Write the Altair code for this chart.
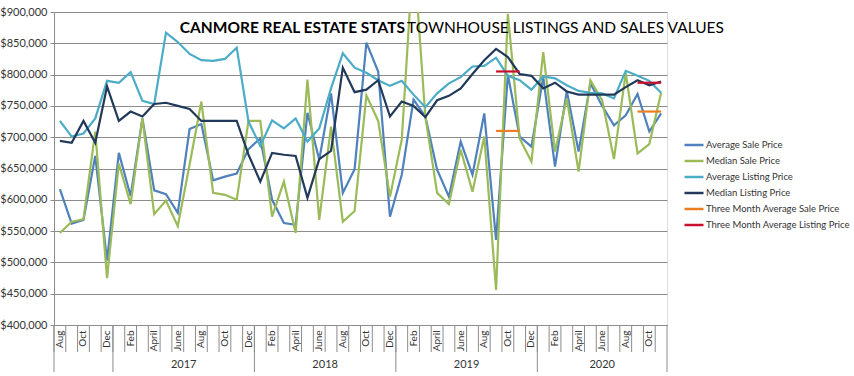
import altair as alt
import pandas as pd

# ---------------- data ----------------
years = [2016] * 5 + [2017] * 12 + [2018] * 12 + [2019] * 12 + [2020] * 11
month_nums = list(range(8, 13)) + list(range(1, 13)) * 3 + list(range(1, 12))
months = [f"{y}-{m:02d}" for y, m in zip(years, month_nums)]

avg_sale = [617, 562, 568, 670, 503, 675, 606, 730, 615, 609, 579, 713, 721, 631, 637, 642,
            681, 698, 600, 563, 560, 739, 664, 770, 611, 649, 851, 805, 573, 640, 760, 733,
            648, 605, 693, 640, 738, 536, 800, 701, 685, 796, 653, 774, 677, 786, 750, 719,
            735, 769, 709, 738]
med_sale = [547, 565, 569, 709, 475, 658, 593, 730, 577, 599, 558, 656, 757, 611, 608, 600,
            726, 726, 573, 629, 547, 792, 568, 717, 565, 582, 767, 726, 605, 696, 1000, 733,
            611, 593, 680, 613, 701, 456, 897, 698, 661, 836, 677, 762, 645, 791, 759, 665,
            803, 674, 689, 771]
avg_list = [726, 701, 706, 730, 790, 787, 804, 758, 753, 867, 852, 833, 823, 822, 825, 843,
            725, 686, 727, 714, 730, 693, 714, 778, 834, 811, 803, 791, 782, 790, 768, 748,
            770, 786, 796, 813, 814, 827, 798, 791, 776, 797, 794, 783, 774, 771, 770, 762,
            806, 798, 790, 771]
med_list = [694, 691, 726, 691, 781, 726, 741, 733, 753, 755, 750, 745, 726, 726, 726, 726,
            672, 629, 675, 672, 670, 603, 665, 678, 811, 772, 776, 791, 733, 757, 750, 732,
            759, 766, 778, 801, 823, 841, 828, 801, 798, 778, 787, 773, 768, 768, 768, 768,
            780, 791, 783, 789]

three_month_months = ["2019-09", "2019-10", "2019-11", "2020-09", "2020-10", "2020-11"]
three_month_segment = [1, 1, 1, 2, 2, 2]
three_month_sale = [710, 710, 710, 741, 741, 741]
three_month_list = [805, 805, 805, 787, 787, 787]

series_names = ["Average Sale Price", "Median Sale Price", "Average Listing Price",
                "Median Listing Price", "Three Month Average Sale Price",
                "Three Month Average Listing Price"]
series_colors = ["#4F81BD", "#9BBB59", "#4BACC6", "#22395A", "#EB7D22", "#C8102E"]

year_labels = ["2017", "2018", "2019", "2020"]
year_mid_months = ["2017-06", "2018-06", "2019-06", "2020-06"]
year_start_months = ["2016-08", "2017-01", "2018-01", "2019-01", "2020-01"]

# ---------------- tables ----------------
rows = []
for name, vals in zip(series_names[:4], [avg_sale, med_sale, avg_list, med_list]):
    for m, v in zip(months, vals):
        rows.append({"series": name, "month": m, "value": v * 1000, "seg": 0})
for name, vals in zip(series_names[4:], [three_month_sale, three_month_list]):
    for m, s, v in zip(three_month_months, three_month_segment, vals):
        rows.append({"series": name, "month": m, "value": v * 1000, "seg": s})
df = pd.DataFrame(rows)

W, H = 613, 313
FONT = "Lato"
GRAY = "#8c8c8c"

label_map = {"02": "Feb", "04": "April", "06": "June", "08": "Aug", "10": "Oct", "12": "Dec"}
label_expr = "".join(
    f"substring(datum.value,5,7)=='{k}' ? '{v}' : " for k, v in label_map.items()
) + "''"

xscale = alt.Scale(type="band", domain=months, paddingInner=0, paddingOuter=0)

lines = alt.Chart(df).mark_line(strokeWidth=2.2, clip=True).encode(
    x=alt.X("month:N", scale=xscale, bandPosition=0.5, title=None,
            axis=alt.Axis(labelExpr=label_expr, labelAngle=270, labelAlign="right",
                          labelBaseline="middle", labelPadding=5, ticks=False,
                          domainColor=GRAY, labelFontSize=10, labelColor="#333",
                          labelFont=FONT, grid=False, labelOverlap=False)),
    y=alt.Y("value:Q", scale=alt.Scale(domain=[400000, 900000], nice=False, zero=False),
            title=None,
            axis=alt.Axis(format="$,.0f", values=list(range(400000, 900001, 50000)),
                          tickSize=4, tickColor=GRAY, domainColor=GRAY, gridColor=GRAY,
                          labelFontSize=11, labelColor="#333", labelFont=FONT,
                          labelPadding=3)),
    color=alt.Color("series:N", scale=alt.Scale(domain=series_names, range=series_colors),
                    legend=alt.Legend(title=None, orient="none", legendX=629, legendY=122,
                                      symbolType="stroke", symbolSize=361,
                                      symbolStrokeWidth=2.5, labelFontSize=9.5,
                                      labelFont=FONT, labelColor="#333", rowPadding=0,
                                      labelOffset=1, labelLimit=0)),
    detail="seg:N",
)

# month tick marks between categories
tick_df = pd.DataFrame({"month": months})
month_ticks = alt.Chart(tick_df).mark_rule(color=GRAY, strokeWidth=1).encode(
    x=alt.X("month:N", scale=xscale, bandPosition=0),
    y=alt.value(H), y2=alt.value(H + 27),
)

sep_df = pd.DataFrame({"month": year_start_months})
year_seps = alt.Chart(sep_df).mark_rule(color=GRAY, strokeWidth=1).encode(
    x=alt.X("month:N", scale=xscale, bandPosition=0),
    y=alt.value(H), y2=alt.value(H + 47),
)
end_sep = alt.Chart(pd.DataFrame({"month": [months[-1]]})).mark_rule(
    color=GRAY, strokeWidth=1).encode(
    x=alt.X("month:N", scale=xscale, bandPosition=1),
    y=alt.value(H), y2=alt.value(H + 47),
)

ylab_df = pd.DataFrame({"month": year_mid_months, "label": year_labels})
year_text_a = alt.Chart(ylab_df.iloc[:3]).mark_text(
    font=FONT, fontSize=11, color="#333", baseline="middle").encode(
    x=alt.X("month:N", scale=xscale, bandPosition=1),
    y=alt.value(H + 40), text="label:N",
)
year_text_b = alt.Chart(ylab_df.iloc[3:]).mark_text(
    font=FONT, fontSize=11, color="#333", baseline="middle").encode(
    x=alt.X("month:N", scale=xscale, bandPosition=0.5),
    y=alt.value(H + 40), text="label:N",
)

one = pd.DataFrame({"a": [0]})
title_bold = alt.Chart(one).mark_text(
    text="CANMORE REAL ESTATE STATS", font=FONT, fontSize=15.5, fontWeight="bold",
    align="right", baseline="alphabetic", color="#000").encode(
    x=alt.value(351), y=alt.value(21))
title_reg = alt.Chart(one).mark_text(
    text="TOWNHOUSE LISTINGS AND SALES VALUES", font=FONT, fontSize=15.5,
    align="left", baseline="alphabetic", color="#000").encode(
    x=alt.value(353), y=alt.value(21))

chart = alt.layer(
    lines, month_ticks, year_seps, end_sep, year_text_a, year_text_b, title_bold, title_reg
).properties(
    width=W, height=H, autosize="none",
    padding={"left": 54, "top": 12, "right": 187, "bottom": 51},
).configure_view(stroke=None).configure(background="white")

chart.save("out.html", embed_options={"renderer": "svg", "actions": False})
